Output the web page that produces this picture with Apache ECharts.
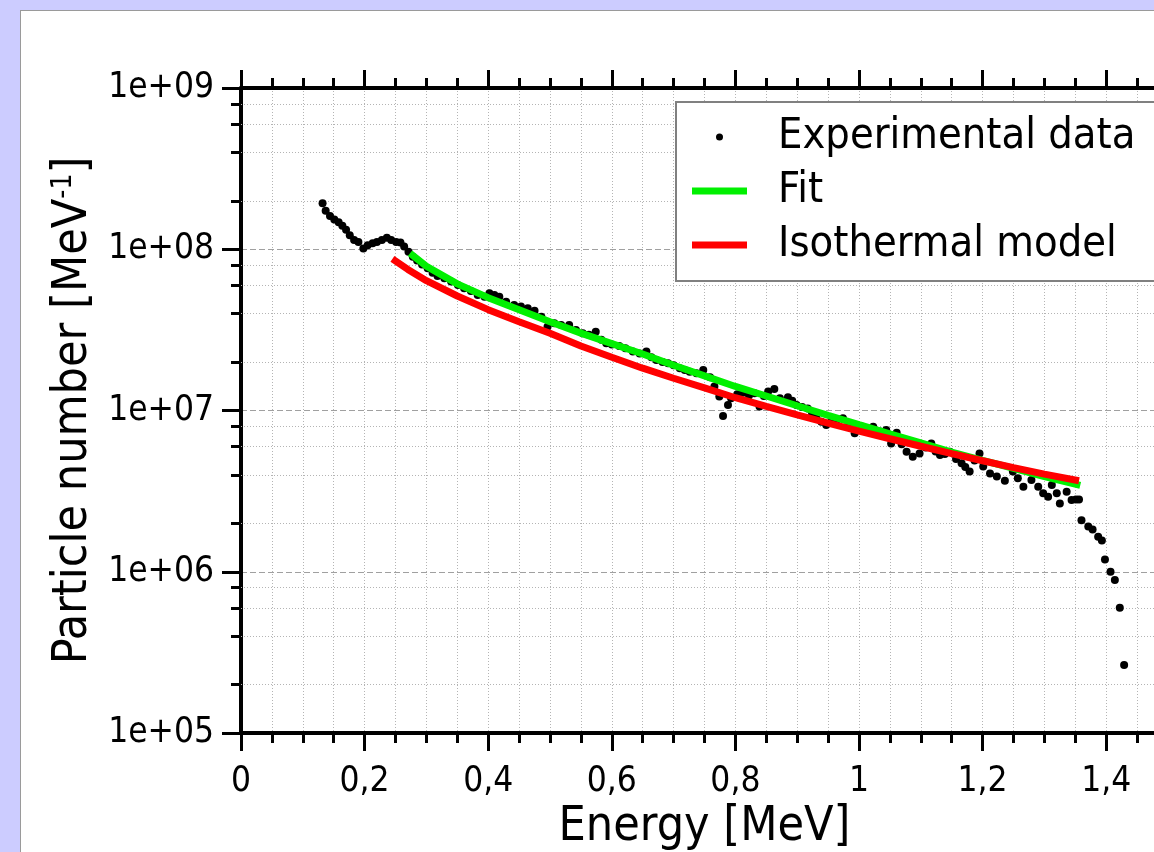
<!DOCTYPE html>
<html><head><meta charset="utf-8">
<script src="https://cdn.jsdelivr.net/npm/echarts@6/dist/echarts.min.js"></script>
<style>
html,body{margin:0;padding:0;background:#ccccff;overflow:hidden;width:1154px;height:852px;}
#panel{position:absolute;left:20px;top:10px;width:1200px;height:900px;background:#fff;border:1px solid #9a9a9a;}
#chart{position:absolute;left:0;top:0;width:1154px;height:852px;}
</style></head><body>
<div id="panel"></div><div id="chart"></div>
<script>
// Experimental data: energy [MeV] and particle number [MeV^-1]
const expEnergy = [0.132,0.137,0.144,0.151,0.158,0.164,0.170,0.176,0.183,0.190,0.198,0.205,0.213,0.220,0.228,0.236,0.243,0.251,0.258,0.264,0.271,0.278,
0.285,0.293,0.302,0.310,0.318,0.329,0.340,0.351,0.361,0.372,0.383,0.394,0.402,0.410,0.418,0.429,0.442,0.453,0.464,0.475,0.486,0.496,0.507,0.518,0.531,0.542,0.553,0.563,0.574,0.583,0.591,0.600,0.612,0.622,0.634,0.645,0.656,0.664,0.672,0.682,0.691,0.700,0.710,0.718,0.726,0.737,0.748,0.759,0.766,0.774,0.780,0.788,0.793,0.803,0.812,0.822,0.831,0.839,0.846,0.853,0.863,0.872,0.885,0.892,0.899,0.908,0.917,0.924,0.931,0.939,0.947,0.955,0.965,0.974,0.983,0.993,
1.006,1.015,1.023,1.034,1.044,1.052,1.061,1.069,1.077,1.087,1.098,1.108,1.117,1.124,1.131,1.139,1.147,1.157,1.166,1.172,1.179,1.187,1.195,1.201,1.212,1.223,1.236,1.249,1.257,1.266,1.279,1.290,1.298,1.306,1.312,1.320,1.325,1.336,1.344,1.351,1.356,1.360,1.371,1.378,1.387,1.393,1.398,1.407,1.414,1.422,1.429];
const expCounts = [1.93e8,1.73e8,1.61e8,1.53e8,1.47e8,1.40e8,1.32e8,1.22e8,1.14e8,1.11e8,1.01e8,1.06e8,1.09e8,1.11e8,1.14e8,1.18e8,1.14e8,1.11e8,1.10e8,1.04e8,9.66e7,8.99e7,
8.51e7,8.04e7,7.62e7,7.16e7,6.82e7,6.61e7,6.30e7,6.00e7,5.73e7,5.51e7,5.20e7,5.08e7,5.33e7,5.20e7,5.08e7,4.73e7,4.51e7,4.41e7,4.31e7,4.16e7,3.82e7,3.31e7,3.48e7,3.39e7,3.39e7,3.16e7,3.01e7,2.95e7,3.08e7,2.75e7,2.61e7,2.57e7,2.51e7,2.43e7,2.32e7,2.26e7,2.32e7,2.14e7,2.06e7,2.00e7,1.96e7,1.91e7,1.83e7,1.78e7,1.74e7,1.70e7,1.78e7,1.61e7,1.41e7,1.22e7,9.25e6,1.08e7,1.19e7,1.26e7,1.29e7,1.24e7,1.28e7,1.06e7,1.23e7,1.31e7,1.36e7,1.19e7,1.21e7,1.15e7,1.08e7,1.05e7,1.03e7,9.66e6,8.95e6,8.51e6,8.13e6,8.51e6,8.81e6,8.95e6,7.94e6,7.23e6,
7.94e6,7.59e6,7.94e6,7.41e6,7.57e6,6.25e6,7.28e6,6.17e6,5.55e6,5.16e6,5.42e6,5.89e6,6.25e6,5.56e6,5.30e6,5.37e6,5.55e6,5.01e6,4.70e6,4.47e6,4.18e6,4.90e6,5.42e6,4.49e6,4.07e6,3.89e6,3.67e6,4.18e6,3.80e6,3.37e6,3.71e6,3.37e6,3.07e6,2.92e6,3.45e6,3.07e6,2.65e6,3.13e6,2.79e6,2.81e6,2.81e6,2.09e6,1.91e6,1.83e6,1.65e6,1.56e6,1.19e6,1.00e6,8.89e5,5.98e5,2.64e5];

// Fit curve
const fitEnergy = [0.2735,0.30,0.35,0.40,0.45,0.50,0.55,0.60,0.65,0.70,0.75,0.80,0.85,0.90,0.95,1.00,1.05,1.10,1.15,1.20,1.25,1.30,1.358];
const fitValues = [9.44e7,7.85e7,6.10e7,5.01e7,4.22e7,3.55e7,3.02e7,2.60e7,2.24e7,1.91e7,1.64e7,1.41e7,1.23e7,1.07e7,9.33e6,8.17e6,7.16e6,6.31e6,5.52e6,4.90e6,4.37e6,3.89e6,3.43e6];

// Isothermal model curve
const isoEnergy = [0.245,0.27,0.30,0.35,0.40,0.45,0.50,0.55,0.60,0.65,0.70,0.75,0.80,0.85,0.90,0.95,1.00,1.05,1.10,1.15,1.20,1.25,1.30,1.356];
const isoValues = [8.71e7,7.50e7,6.38e7,5.13e7,4.22e7,3.55e7,3.01e7,2.51e7,2.14e7,1.83e7,1.585e7,1.38e7,1.20e7,1.06e7,9.38e6,8.36e6,7.46e6,6.68e6,6.00e6,5.40e6,4.88e6,4.42e6,4.03e6,3.67e6];

// Axis settings
const xMin = 0, xMax = 1.5, xStep = 0.2;
const yMin = 1e5, yMax = 1e9;
const yMinorLines = [2e5,4e5,6e5,8e5,2e6,4e6,6e6,8e6,2e7,4e7,6e7,8e7,2e8,4e8,6e8,8e8];

const FONT = '"DejaVu Sans Condensed", "DejaVu Sans", sans-serif';

const chart = echarts.init(document.getElementById('chart'), null, {renderer:'canvas'});
const zip = (a,b) => a.map((v,i)=>[v,b[i]]);

const xAxisCommon = {
  type:'value', min:xMin, max:xMax, interval:xStep,
  axisLine:{show:true, onZero:false, lineStyle:{color:'#000', width:4}},
  axisTick:{show:true, length:18, lineStyle:{color:'#000', width:3}},
  minorTick:{show:true, splitNumber:4, length:10, lineStyle:{color:'#000', width:3}},
};

chart.setOption({
  animation:false,
  backgroundColor:'transparent',
  grid:{left:241, top:88, width:927, bottom:119, containLabel:false, outerBoundsMode:'none'},
  legend:{
    orient:'vertical', left:676, top:102,
    padding:[13,60,14,16], itemGap:10,
    itemWidth:55, itemHeight:7,
    backgroundColor:'#fff', borderColor:'#808080', borderWidth:2, borderRadius:0,
    textStyle:{fontFamily:FONT, fontSize:43, color:'#000', lineHeight:44, padding:[0,0,0,26]},
    data:[
      {name:'Experimental data', icon:'circle'},
      {name:'Fit', icon:'rect'},
      {name:'Isothermal model', icon:'rect'}
    ],
    selectedMode:false
  },
  xAxis:[
    Object.assign({}, xAxisCommon, {
      position:'bottom',
      name:'Energy [MeV]', nameLocation:'middle', nameGap:70,
      nameTextStyle:{fontFamily:FONT, fontSize:48, color:'#000', lineHeight:48},
      axisLabel:{show:true, margin:31, showMaxLabel:false, fontFamily:FONT, fontSize:35, color:'#000',
        formatter: v => String(+v.toFixed(2)).replace('.', ',')},
      splitLine:{show:true, lineStyle:{color:'#b4b4b4', width:1, type:[1,2]}},
      minorSplitLine:{show:true, lineStyle:{color:'#b4b4b4', width:1, type:[1,2]}}
    }),
    Object.assign({}, xAxisCommon, {
      position:'top',
      axisLabel:{show:false},
      splitLine:{show:false},
      minorSplitLine:{show:false}
    })
  ],
  yAxis:{
    type:'log', logBase:10, min:yMin, max:yMax,
    name:'Particle number [MeV{sup|-1}]', nameLocation:'middle', nameGap:141,
    nameTextStyle:{fontFamily:FONT, fontSize:48, color:'#000', lineHeight:48,
      rich:{sup:{fontFamily:FONT, fontSize:28, color:'#000', verticalAlign:'top', lineHeight:28}}},
    axisLine:{show:true, lineStyle:{color:'#000', width:4}},
    axisTick:{show:true, length:19, lineStyle:{color:'#000', width:3}},
    minorTick:{show:false},
    axisLabel:{show:true, margin:27, fontFamily:FONT, fontSize:35, color:'#000',
      formatter: v => '1e+' + String(Math.round(Math.log10(v))).padStart(2,'0')},
    splitLine:{show:true, lineStyle:{color:'#a0a0a0', width:1, type:[6,3]}}
  },
  series:[
    {
      type:'custom', name:'minor-grid', silent:true, clip:false, z:1,
      xAxisIndex:0, yAxisIndex:0,
      data: yMinorLines.map(v => [xMin, v]),
      renderItem: function(params, api){
        const cs = params.coordSys;
        const p = api.coord([xMin, api.value(1)]);
        const y = Math.round(p[1]) + 0.5;
        return {type:'group', children:[
          {type:'line', shape:{x1:cs.x, y1:y, x2:cs.x+cs.width, y2:y},
           style:{stroke:'#b4b4b4', lineWidth:1, lineDash:[1,2]}},
          {type:'line', shape:{x1:cs.x-10, y1:y, x2:cs.x, y2:y},
           style:{stroke:'#000', lineWidth:3}}
        ]};
      }
    },
    {
      type:'scatter', name:'Experimental data', z:2,
      data: zip(expEnergy, expCounts),
      symbol:'circle', symbolSize:8,
      itemStyle:{color:'#000', opacity:1}
    },
    {
      type:'line', name:'Fit', z:3,
      data: zip(fitEnergy, fitValues),
      showSymbol:false, symbol:'none',
      color:'#00f000',
      itemStyle:{color:'#00f000'},
      lineStyle:{color:'#00f000', width:7}
    },
    {
      type:'line', name:'Isothermal model', z:4,
      data: zip(isoEnergy, isoValues),
      showSymbol:false, symbol:'none',
      color:'#ff0000',
      itemStyle:{color:'#ff0000'},
      lineStyle:{color:'#ff0000', width:7}
    }
  ]
});
</script>
</body></html>
